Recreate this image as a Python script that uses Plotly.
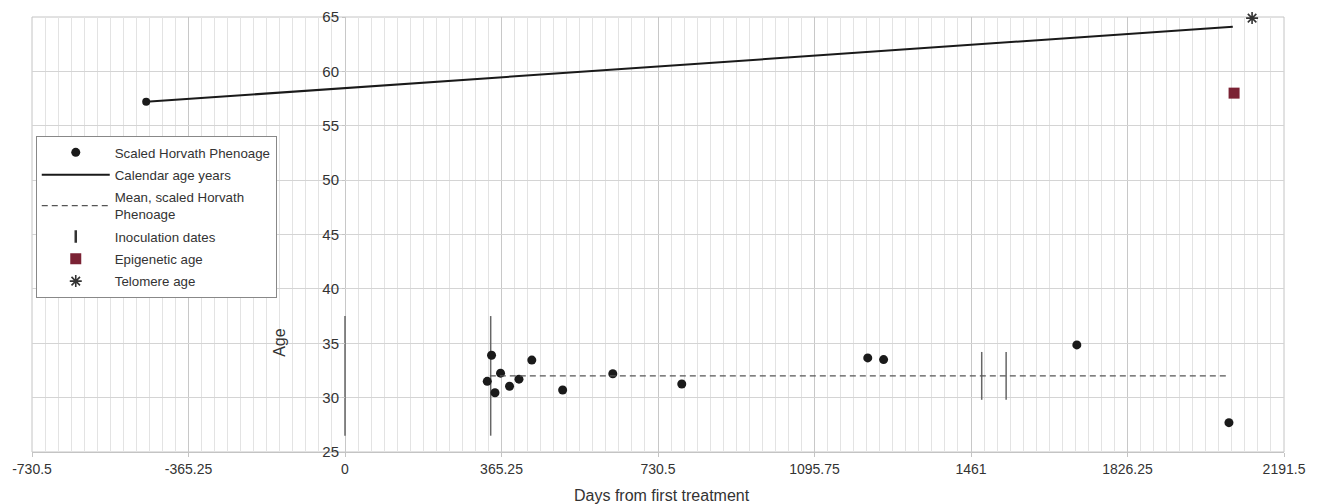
import plotly.graph_objects as go

# ---- data ----
pheno_days = [332, 342, 350, 363, 384, 406, 436, 508, 625, 786, 1220, 1257, 1708, 2063]
pheno_age = [31.5, 33.9, 30.45, 32.25, 31.05, 31.7, 33.45, 30.7, 32.2, 31.25, 33.65, 33.5, 34.85, 27.7]

cal_days = [-464, 2072]
cal_age = [57.2, 64.1]

mean_days = [338, 2063]
mean_age = [32.0, 32.0]

inoc_days = [0, 340, 1486, 1543]
inoc_low = [26.5, 26.5, 29.8, 29.8]
inoc_high = [37.5, 37.5, 34.2, 34.2]

epi_days = [2075]
epi_age = [58.0]

telo_days = [2117]
telo_age = [64.9]

x_ticks = [-730.5, -365.25, 0, 365.25, 730.5, 1095.75, 1461, 1826.25, 2191.5]
x_ticklabels = ["-730.5", "-365.25", "0", "365.25", "730.5", "1095.75", "1461", "1826.25", "2191.5"]
y_ticks = [25, 30, 35, 40, 45, 50, 55, 60, 65]

FONT = "Liberation Sans, Arial, sans-serif"
TXT = "#333333"

fig = go.Figure()

# inoculation vertical lines (drawn as one line trace with gaps)
ix, iy = [], []
for d, lo, hi in zip(inoc_days, inoc_low, inoc_high):
    ix += [d, d, None]
    iy += [lo, hi, None]
fig.add_trace(go.Scatter(x=ix, y=iy, mode="lines", line=dict(color="#666666", width=1.5),
                         showlegend=False, hoverinfo="skip"))

fig.add_trace(go.Scatter(x=pheno_days, y=pheno_age, mode="markers", name="Scaled Horvath Phenoage",
                         legendgroup="a", marker=dict(symbol="circle", size=9, color="#1a1a1a")))
fig.add_trace(go.Scatter(x=cal_days, y=cal_age, mode="lines", name="Calendar age years",
                         legendgroup="b", line=dict(color="#1a1a1a", width=2)))
fig.add_trace(go.Scatter(x=cal_days[:1], y=cal_age[:1], mode="markers", showlegend=False,
                         legendgroup="b", marker=dict(symbol="circle", size=8, color="#1a1a1a")))
fig.add_trace(go.Scatter(x=mean_days, y=mean_age, mode="lines", name="Mean, scaled Horvath<br>Phenoage",
                         legendgroup="c", line=dict(color="#555555", width=1.3, dash="6px,4px")))
fig.add_trace(go.Scatter(x=[None], y=[None], mode="markers", name="Inoculation dates",
                         legendgroup="d",
                         marker=dict(symbol="line-ns", size=9, color="#333333",
                                     line=dict(width=2.5, color="#333333"))))
fig.add_trace(go.Scatter(x=epi_days, y=epi_age, mode="markers", name="Epigenetic age",
                         legendgroup="e", marker=dict(symbol="square", size=11, color="#7b2234")))
fig.add_trace(go.Scatter(x=telo_days, y=telo_age, mode="markers", name="Telomere age", cliponaxis=False,
                         legendgroup="f",
                         marker=dict(symbol="asterisk", size=10, color="#333333",
                                     line=dict(width=1.6, color="#333333"))))

# plot border
fig.add_shape(type="rect", xref="paper", yref="paper", x0=0, x1=1, y0=0, y1=1,
              line=dict(color="#c4c4c4", width=1), layer="below")

fig.update_layout(
    width=1329, height=504,
    margin=dict(l=32, r=45, t=17, b=52, autoexpand=False),
    paper_bgcolor="white", plot_bgcolor="white",
    font=dict(family=FONT, color=TXT, size=14),
    xaxis=dict(
        range=[-730.5, 2191.5], tickmode="array", tickvals=x_ticks, ticktext=x_ticklabels,
        automargin=False,
        showgrid=True, gridcolor="#c8c8c8", gridwidth=1,
        minor=dict(tickmode="linear", tick0=0, dtick=30.4375, showgrid=True,
                   gridcolor="#e3e3e3", gridwidth=1),
        ticks="outside", ticklen=4, tickcolor="#c4c4c4",
        showline=True, linecolor="#c4c4c4", linewidth=1,
        zeroline=False, tickfont=dict(size=14, color=TXT),
    ),
    yaxis=dict(
        range=[25, 65], tickmode="array", tickvals=y_ticks,
        anchor="free", position=313 / 1252, automargin=False,
        showgrid=True, gridcolor="#d4d4d4", gridwidth=1,
        ticks="outside", ticklen=3, tickcolor="#c4c4c4",
        showline=False, zeroline=False, tickfont=dict(size=15, color=TXT),
    ),
    legend=dict(
        x=0.003, y=0.726, xanchor="left", yanchor="top",
        bgcolor="white", bordercolor="#888888", borderwidth=1,
        font=dict(family=FONT, size=13.3, color=TXT),
        itemwidth=68, tracegroupgap=2,
    ),
    annotations=[
        dict(text="Age", x=0.198, y=0.253, xref="paper", yref="paper", showarrow=False,
             textangle=-90, font=dict(size=16, color=TXT), xanchor="center", yanchor="middle"),
        dict(text="Days from first treatment", x=0.503, y=-0.099, xref="paper", yref="paper",
             showarrow=False, font=dict(size=16, color=TXT), xanchor="center", yanchor="middle"),
    ],
    showlegend=True,
)

fig.write_html("out.html", config={"displayModeBar": False},
               post_script="document.body.style.margin='0';")
